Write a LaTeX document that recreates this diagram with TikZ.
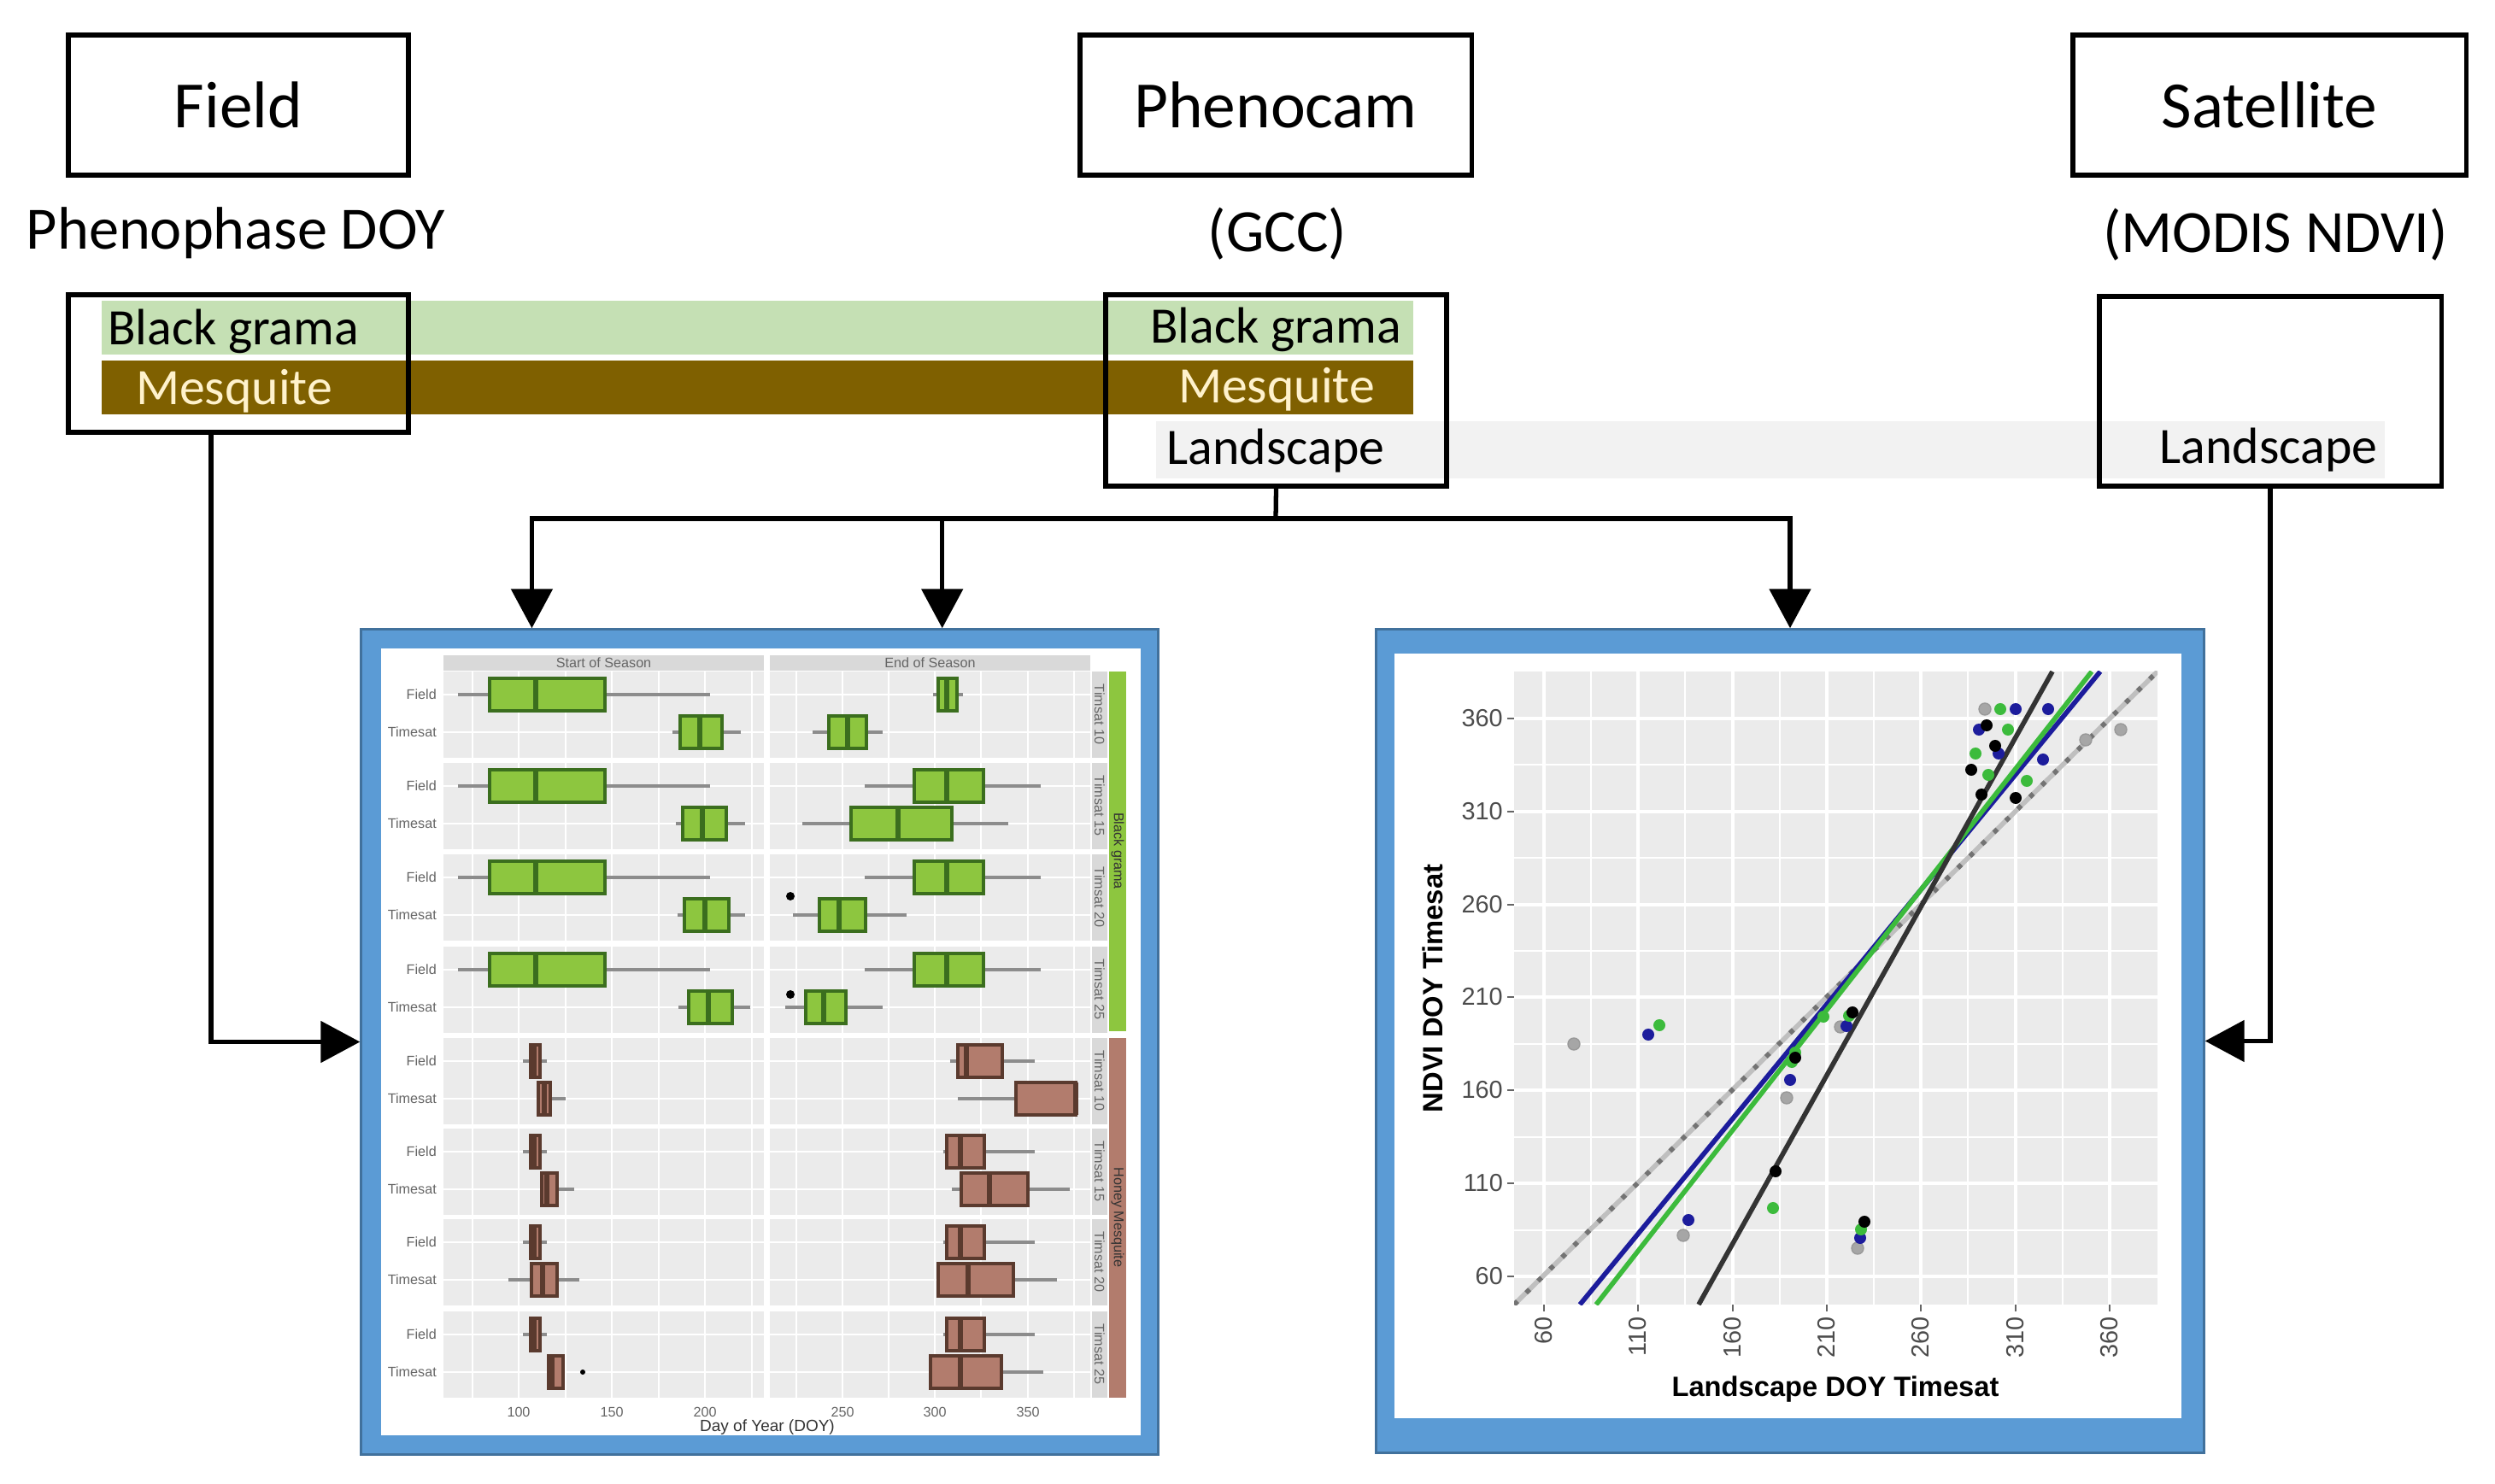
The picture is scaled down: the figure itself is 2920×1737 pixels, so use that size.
\documentclass[tikz,border=0pt]{standalone}
\usepackage{fontspec}
\setmainfont{Carlito}
\newfontfamily\plotfont{Liberation Sans}
\usetikzlibrary{arrows.meta}

\definecolor{frameblue}{HTML}{5B9BD5}
\definecolor{framedark}{HTML}{41719C}
\definecolor{gramabar}{HTML}{C5E0B4}
\definecolor{mesqbar}{HTML}{7F6000}
\definecolor{mesqtext}{HTML}{FFF2CC}
\definecolor{landbar}{HTML}{F2F2F2}
\definecolor{panelgray}{HTML}{EBEBEB}
\definecolor{stripgray}{HTML}{D9D9D9}
\definecolor{gramafill}{HTML}{8DC63F}
\definecolor{gramaline}{HTML}{3B6E1E}
\definecolor{mesqfill}{HTML}{B27C6D}
\definecolor{mesqline}{HTML}{5A3A2E}
\definecolor{ptgreen}{HTML}{3CBB3C}
\definecolor{ptblue}{HTML}{1C1C9C}
\definecolor{ptgray}{HTML}{A6A6A6}

\tikzset{
  conn/.style={line width=1.5pt},
  srcbox/.style={draw,line width=1.5pt,minimum height=1.64cm,font=\fontsize{22}{26}\selectfont},
  subbox/.style={draw,line width=1.5pt},
  sublabel/.style={font=\fontsize{20}{24}\selectfont},
  barlabel/.style={font=\fontsize{17}{20}\selectfont},
  plotframe/.style={fill=frameblue,draw=framedark,line width=0.8pt},
  whisk/.style={draw=black!45,line width=1pt},
  gbox/.style={fill=gramafill,draw=gramaline,line width=0.9pt},
  mbox/.style={fill=mesqfill,draw=mesqline,line width=0.9pt},
  tinytext/.style={font=\plotfont\fontsize{4.6}{5}\selectfont,text=black!60,inner sep=1pt},
  ticklab/.style={font=\plotfont\fontsize{8.2}{9}\selectfont,text=black!70,inner sep=1pt},
  axtitle/.style={font=\plotfont\bfseries\fontsize{9.3}{11}\selectfont},
  dot/.style={circle,inner sep=0pt,minimum size=0.14cm},
}
% whisker, box and median of one boxplot
\newcommand{\bxp}[7]{%
  \draw[whisk] (#2,#1) -- (#6,#1);
  \draw[#7] (#3,#1-19) rectangle (#5,#1+19);
  \draw[#7,line width=1.8pt] (#4,#1-19) -- (#4,#1+19);
}

\begin{document}
\begin{tikzpicture}[x=0.01cm,y=-0.01cm,>={Triangle[length=4.6mm,width=4.8mm]}]
\useasboundingbox (0,0) rectangle (2920,1737);

% colour bars behind the lower boxes
\fill[gramabar] (119,352) rectangle (1654,415);
\fill[mesqbar] (119,422) rectangle (1654,485);
\fill[landbar] (1353,493) rectangle (2791,560);

% sources
\node[srcbox,minimum width=3.98cm] (field) at (279,123) {Field};
\node[srcbox,minimum width=4.58cm] (pheno) at (1493,123) {Phenocam};
\node[srcbox,minimum width=4.60cm] (sat) at (2656,123) {Satellite};
\node[sublabel] (fieldvar) at (276,273) {Phenophase DOY};
\node[sublabel] (phenovar) at (1495,274) {(GCC)};
\node[sublabel] (satvar) at (2663,275) {(MODIS NDVI)};

\node[subbox,minimum width=3.98cm,minimum height=1.61cm] (fieldsub) at (279,425.5) {};
\node[subbox,minimum width=3.99cm,minimum height=2.24cm] (phenosub) at (1493.5,457) {};
\node[subbox,minimum width=4.00cm,minimum height=2.22cm] (satsub) at (2657,458) {};

\node[barlabel] (gramaF) at (273,388) {Black grama};
\node[barlabel] (gramaP) at (1493,386) {Black grama};
\node[barlabel,text=mesqtext] (mesqF) at (274,458) {Mesquite};
\node[barlabel,text=mesqtext] (mesqP) at (1494,456) {Mesquite};
\node[barlabel] (landP) at (1493,528) {Landscape};
\node[barlabel] (landS) at (2655,527) {Landscape};

% boxplot figure
\node[plotframe,minimum width=9.32cm,minimum height=9.65cm] (boxframe) at (889,1219.5) {};
\fill[white] (446,759) rectangle (1335,1680);
\fill[stripgray] (519,767) rectangle (894,785);
\fill[stripgray] (901,767) rectangle (1276,785);
\node[tinytext] (sos) at (706.5,776) {Start of Season};
\node[tinytext] (eos) at (1088.5,776) {End of Season};
\foreach \ry/\fn in {786/10,893/15,1000/20,1108/25,1215/10,1321/15,1427/20,1535/25}{
  \fill[panelgray] (519,\ry) rectangle (894,\ry+101);
  \fill[panelgray] (901,\ry) rectangle (1276,\ry+101);
  \fill[stripgray] (1278,\ry) rectangle (1296,\ry+101);
  \node[tinytext,rotate=-90] (facet\ry) at (1287,\ry+50) {Timsat \fn};
  \foreach \gx in {553,662,771,880,932,1040,1148,1257}
    \draw[white,line width=0.3pt] (\gx,\ry) -- (\gx,\ry+101);
  \foreach \gx in {607,716,825,986,1094,1203}
    \draw[white,line width=0.7pt] (\gx,\ry) -- (\gx,\ry+101);
  \draw[white,line width=0.7pt] (519,\ry+27) -- (894,\ry+27) (901,\ry+27) -- (1276,\ry+27)
    (519,\ry+71) -- (894,\ry+71) (901,\ry+71) -- (1276,\ry+71);
  \node[tinytext,anchor=east] (fl\ry) at (515,\ry+27) {Field};
  \node[tinytext,anchor=east] (tl\ry) at (515,\ry+71) {Timesat};
}
\fill[gramafill] (1298,786) rectangle (1318,1207);
\fill[mesqfill] (1298,1215) rectangle (1318,1636);
\node[tinytext,rotate=-90,text=black!80] (gramastrip) at (1308,996) {Black grama};
\node[tinytext,rotate=-90,text=black!80] (mesqstrip) at (1308,1425) {Honey Mesquite};

\foreach \by/\lo/\qa/\md/\qb/\hi in {813/536/573/627/708/831,920/536/573/627/708/831,
    1027/536/573/627/708/831,1135/536/573/627/708/831,
    857/787/796/819/845/867,813/1092/1098/1108/1120/1127,857/951/970/992/1014/1033,
    964/791/799/822/850/872,920/1012/1070/1108/1151/1218,964/939/996/1051/1114/1180,
    1071/793/801/825/853/872,1027/1012/1070/1108/1151/1218,1071/928/959/982/1013/1061,
    1179/794/806/829/857/878,1135/1012/1070/1108/1151/1218,1179/919/943/964/990/1033}
  {\bxp{\by}{\lo}{\qa}{\md}{\qb}{\hi}{gbox}}
\foreach \by/\lo/\qa/\md/\qb/\hi in {1242/612/621/625/632/640,1348/612/621/625/632/640,
    1454/612/621/625/632/640,1562/612/621/625/632/640,
    1286/628/630/637/644/662,1242/1112/1121/1131/1173/1211,1286/1121/1189/1259/1259/1259,
    1392/632/634/640/652/672,1348/1104/1108/1124/1152/1211,1392/1114/1125/1158/1203/1252,
    1498/595/622/635/652/678,1454/1104/1108/1124/1152/1211,1498/1098/1098/1133/1186/1237,
    1606/642/642/646/659/659,1562/1104/1108/1124/1152/1211,1606/1089/1089/1124/1172/1221}
  {\bxp{\by}{\lo}{\qa}{\md}{\qb}{\hi}{mbox}}
\fill (925,1049) circle (5) (925,1164) circle (5) (682,1606) circle (3);

\foreach \tx/\tl in {607/100,716/150,825/200,986/250,1094/300,1203/350}
  \node[tinytext] (bx\tl) at (\tx,1653) {\tl};
\node[tinytext,font=\plotfont\fontsize{5.4}{6}\selectfont,text=black!80] (bxtitle) at (898,1671) {Day of Year (DOY)};

% scatter figure
\node[plotframe,minimum width=9.68cm,minimum height=9.63cm] (scatframe) at (2095,1218.5) {};
\fill[white] (1632,765) rectangle (2553,1660);
\fill[panelgray] (1772,786) rectangle (2525,1527);
\foreach \gx in {1862,1972,2083,2193,2303,2414}
  \draw[white,line width=0.5pt] (\gx,786) -- (\gx,1527);
\foreach \gy in {1440,1331,1222,1113,1004,895}
  \draw[white,line width=0.5pt] (1772,\gy) -- (2525,\gy);
\foreach \tx/\tl in {1807/60,1917/110,2028/160,2138/210,2248/260,2359/310,2469/360}{
  \draw[white,line width=1pt] (\tx,786) -- (\tx,1527);
  \draw[black!60,line width=0.6pt] (\tx,1527) -- (\tx,1535);
  \node[ticklab,anchor=east,rotate=90] (rx\tl) at (\tx,1537) {\tl};
}
\foreach \ty/\tl in {1494/60,1385/110,1276/160,1167/210,1059/260,950/310,841/360}{
  \draw[white,line width=1pt] (1772,\ty) -- (2525,\ty);
  \draw[black!60,line width=0.6pt] (1764,\ty) -- (1772,\ty);
  \node[ticklab,anchor=east] (ry\tl) at (1763,\ty) {\tl};
}
\begin{scope}
  \clip (1772,786) rectangle (2525,1527);
  \draw[black!25,line width=1.6pt] (1772,1527) -- (2525,786);
  \draw[black!55,line width=1.6pt,dash pattern=on 1.6pt off 4pt] (1772,1527) -- (2525,786);
  \draw[ptblue,line width=1.6pt] (1849,1527) -- (2458,786);
  \draw[ptgreen,line width=1.6pt] (1868,1527) -- (2448,786);
  \draw[black!80,line width=1.6pt] (1988,1527) -- (2402,786);
\end{scope}
\foreach \px/\py in {1842/1222,1970/1446,2091/1285,2154/1202,2174/1461,2323/830,2441/866,2482/854}
  \node[dot,fill=ptgray,draw=black!40] (gp\px) at (\px,\py) {};
\foreach \px/\py in {1929/1211,1976/1428,2095/1264,2161/1201,2177/1449,2316/854,2339/882,2359/830,2391/889,2397/830}
  \node[dot,fill=ptblue] (bp\px) at (\px,\py) {};
\foreach \px/\py in {1942/1200,2075/1414,2097/1243,2101/1232,2134/1190,2164/1189,2178/1439,2312/882,2327/907,2341/830,2350/854,2372/914}
  \node[dot,fill=ptgreen] (np\px) at (\px,\py) {};
\foreach \px/\py in {2078/1371,2101/1238,2168/1185,2182/1430,2307/901,2319/930,2325/849,2335/873,2359/934}
  \node[dot,fill=black] (kp\px) at (\px,\py) {};
\node[axtitle,rotate=90] (ytitle) at (1677,1157) {NDVI DOY Timesat};
\node[axtitle] (xtitle) at (2148,1626) {Landscape DOY Timesat};

% connectors
\coordinate (fieldout) at (247,506);
\coordinate (split) at (1493,607);
\draw[conn,->] (fieldout) |- (boxframe.west);
\draw[conn] (phenosub.south) -- (split);
\draw[conn,->] (split) -| ([xshift=2.01cm]boxframe.north west);
\draw[conn,->] (split) -| ([xshift=6.81cm]boxframe.north west);
\draw[conn,->] (split) -| (scatframe.north);
\draw[conn,->] (satsub.south) |- (scatframe.east);
\end{tikzpicture}
\end{document}
